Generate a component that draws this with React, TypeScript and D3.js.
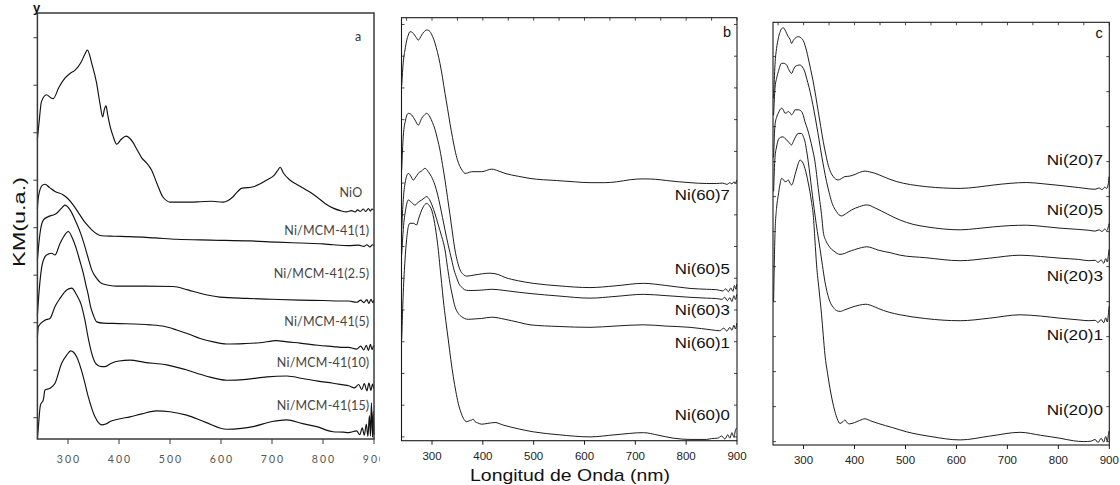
import React from 'react';
import * as d3 from 'd3';

type Pt = [number, number];

// ---------- shared axis data ----------
const WAVELENGTH_DOMAIN: [number, number] = [240, 900];
const KM_DOMAIN: [number, number] = [0, 100];
const X_TICK_VALUES = [300, 400, 500, 600, 700, 800, 900];
const X_MINOR_TICKS = [250, 300, 350, 400, 450, 500, 550, 600, 650, 700, 750, 800, 850, 900];

// ---------- panel a ----------
const panelALabels = ['NiO', 'Ni/MCM-41(1)', 'Ni/MCM-41(2.5)', 'Ni/MCM-41(5)', 'Ni/MCM-41(10)', 'Ni/MCM-41(15)'];

const niO: Pt[] = [[240,70.5],[243,74],[248,79.2],[258,80.8],[265,80.2],[271,79.9],[282,82.5],[294,84.7],[304,85.8],[314,86.6],[326,88.5],[333,90.3],[338,91.3],[347,88],[356,83.6],[363,78.5],[368,75.6],[371,77.2],[374.5,78.2],[378,76],[382,73.7],[388,71.2],[395.5,69.2],[404,70.3],[414,71.1],[421,70.6],[428,69.5],[436,67.8],[444.5,66.0],[454,64.8],[464,63.1],[474,60.1],[486,56.8],[494,55.9],[500,55.6],[530,55.6],[560,55.7],[582,55.8],[604,55.6],[614,56.0],[623,56.8],[632,58.0],[641,58.9],[652,59.0],[663,59.2],[677,59.9],[690,60.8],[704,61.9],[712,63.2],[716,63.8],[722,62.5],[735,60.8],[748,59.8],[761,58.9],[775,57.9],[788,56.8],[804,55.3],[820,54.2],[834,53.6],[846,53.3],[856,53.6],[863,53.3],[868,53.8],[873,53.4],[879,54.0],[884,53.4],[889,54.1],[893,53.5],[896,54.0],[899,53.7]];

const mcm1: Pt[] = [[240,54],[242,56.9],[250,59.6],[255,59.8],[264,59.0],[274.5,58.1],[290.8,57.3],[300,56.4],[310.4,54.9],[320,53.2],[330,51.4],[338,50.2],[346.5,49.1],[356,48.2],[366,47.7],[390,47.6],[421.6,47.5],[470,47.2],[513,46.9],[580,46.7],[657,46.5],[710,46.2],[755,46.0],[800,45.8],[820,45.6],[850,45.4],[870,45.5],[880,45.2],[886,45.6],[892,45.1],[897,45.6],[899.5,45.3]];

const mcm25: Pt[] = [[240,42],[242,44.8],[246,49],[251.6,51.4],[261.4,52.2],[271.2,52.6],[277.8,53.0],[287.6,54.2],[294,54.9],[304,53.8],[316.9,50.6],[325,48.2],[333.3,45.1],[340,42.3],[346.5,39.7],[356.3,37.7],[366.1,36.5],[380,36.1],[395.5,35.9],[450,35.9],[505.9,35.8],[535,35.0],[558.8,34.2],[598,33.3],[650,33.0],[700,32.8],[754.9,32.6],[800,32.5],[835,32.4],[850,32.4],[866,32.1],[874,32.6],[880,32.0],[886,32.7],[890,31.8],[894,32.8],[898,32.0],[899.5,32.6]];

const mcm5: Pt[] = [[240,29],[242,32.6],[248,40],[254.9,42.8],[261,43.4],[268,43.6],[274.5,43.2],[284.3,45.9],[292,47.6],[300.6,48.7],[308,47.3],[317,44.4],[323,41.9],[330,38.9],[335,36.2],[339.8,33.8],[344,31.2],[349.6,29.1],[356.3,27.5],[369.2,27.2],[400,27.1],[460.8,26.8],[490,26.4],[513,25.6],[535,24.7],[559,23.6],[585,22.8],[611,22.3],[645,22.4],[676,22.6],[709,23.1],[730,22.8],[755,22.5],[790,22.0],[820,21.7],[840,21.5],[850,21.5],[866,21.1],[874,21.8],[880,20.9],[885,22.0],[889,20.8],[893,22.2],[896,21.0],[899,22.0]];

const mcm10: Pt[] = [[240,24],[242,26.4],[254.9,27.9],[264.7,28.3],[274.5,31.1],[284.3,33.0],[297.5,35.0],[307.3,35.4],[317,33.8],[326,31.5],[333,28],[340,23.5],[346.5,20.1],[352,18.2],[358,17.3],[366,17.0],[372.5,17.0],[385,17.8],[400,18.3],[421.6,18.5],[450,18.0],[493.5,17.4],[530,16.3],[570,14.8],[611,13.8],[650,14.0],[690,14.6],[729,14.8],[760,14.2],[790,13.6],[820,13.1],[840,12.7],[850,12.5],[862,12.0],[870,12.8],[876,11.6],[881,13.0],[886,11.3],[890,13.1],[894,11.4],[897,12.9],[899.5,11.8]];

const mcm15: Pt[] = [[240,0],[242,3],[246,8],[251.6,9.2],[254.9,11.5],[264.7,11.9],[274.5,13.1],[287.6,17.8],[297.5,19.7],[305.3,20.7],[317,19.3],[330,14.6],[339.8,9.9],[352.9,5.2],[366.1,3.3],[374,3.5],[382.4,4.1],[400,4.7],[421.6,5.2],[445,5.9],[473.9,6.6],[500,6.4],[532.7,5.6],[570,3.9],[611.2,2.3],[640,2.5],[662.7,2.9],[700,4.1],[728.8,4.5],[760,3.6],[787.6,2.9],[819.6,1.7],[840,1.6],[850,1.5],[866,1.9],[872,1.0],[877,2.6],[881,0.9],[885,3.5],[888,0.6],[891,5.5],[893,0.7],[895,8.5],[897,0.4],[898.5,6.5],[899.8,1]];

// ---------- panel b ----------
const panelBLabels = ['Ni(60)7', 'Ni(60)5', 'Ni(60)3', 'Ni(60)1', 'Ni(60)0'];

const ni60_7: Pt[] = [[240.4,84],[243.5,89.5],[246.9,92.4],[250,94.5],[253.4,95.9],[256.7,96.7],[260.1,96.6],[263.2,96.3],[268,95.5],[273,94.7],[276.4,95.2],[279.7,95.9],[284,96.6],[289.6,97.1],[293,97.0],[296.1,96.7],[301,95.6],[305.9,94.0],[310.8,91.8],[315.7,89.2],[320.6,85.9],[325.6,82.1],[330.5,78.6],[335.4,75.0],[340.3,71.7],[345.2,68.7],[350,66.4],[355.1,64.8],[360,63.8],[364.9,63.2],[370,63.3],[378.1,63.6],[397.8,63.6],[417.5,64.2],[430,63.8],[443.6,63.2],[470,62.5],[492.8,62.0],[545.3,61.5],[580,61.2],[610.8,61.0],[640,61.0],[663.3,61.2],[690,61.7],[715.6,61.9],[740,61.8],[761.7,61.5],[807.6,61.0],[840,60.8],[860,60.8],[872,60.9],[880,60.6],[886,61.0],[890,60.7],[894,61.2],[897,60.9],[899.4,61.6]];

const ni60_5: Pt[] = [[240.4,64],[243.5,72],[248,75.8],[253.4,77.4],[260.1,77.0],[266.6,75.8],[273,74.6],[279.7,76.2],[285,77.0],[289.6,77.4],[296.1,76.5],[301,75.2],[305.9,73.6],[310.8,71.3],[315.7,68.7],[320.6,65.3],[325.6,61.6],[330.5,57.5],[335.4,53.4],[340.3,49.1],[345.2,45.1],[350,42.4],[355.1,40.4],[361.6,39.3],[368.3,38.9],[384.6,39.2],[414.1,39.6],[430,39.3],[443.6,38.6],[470,37.8],[499.3,37.2],[550,36.6],[610.8,36.2],[660,36.6],[715.7,37.2],[760,36.7],[807.6,36.0],[840,35.8],[860,35.7],[872,35.4],[878,35.9],[883,35.2],[888,36.1],[892,35.3],[895,36.7],[898,35.8],[899.5,37.0]];

const ni60_3: Pt[] = [[240.4,50],[243.5,57],[248,61.5],[253.4,63.2],[258,62.6],[263.2,61.6],[268,62.3],[273,63.2],[280,63.8],[286.2,64.4],[292.7,63.6],[299,62.4],[305.9,60.4],[310.8,58.3],[315.7,55.7],[320.6,52.8],[325.6,49.8],[332,46.2],[338.8,42.7],[343.5,40.3],[348.6,38.5],[353,37.1],[358.4,36.3],[364,35.7],[371.4,35.5],[397.8,35.6],[417.5,35.8],[443.6,35.5],[470,35.1],[492.8,34.8],[550,34.2],[610.8,33.7],[660,34.1],[715.7,34.6],[760,34.3],[807.6,33.9],[840,33.7],[860,33.6],[870,33.4],[876,33.9],[881,33.1],[886,33.8],[890,32.9],[894,34.3],[897,33.4],[899.5,34.6]];

const ni60_1: Pt[] = [[240.4,44],[243.5,50],[248,54.5],[253.4,56.9],[260,56.3],[266.6,55.7],[273,56.4],[279.7,56.9],[285,57.4],[289.6,57.7],[295,57.0],[300,55.7],[306,53.6],[312.4,51.0],[319,48.3],[325.6,45.1],[330.5,41.0],[335.4,37.2],[340.3,34.2],[345.2,31.7],[351.7,30.1],[358.4,29.3],[364,28.9],[371.4,28.7],[385,28.8],[397.8,28.9],[417.5,29.2],[443.6,28.7],[470,28.0],[492.8,27.4],[550,27.0],[610.8,26.8],[660,27.1],[715.7,27.4],[760,27.1],[807.6,26.8],[830,26.5],[850,26.2],[866,26.0],[874,26.6],[880,25.9],[886,26.8],[890,26.1],[894,27.3],[897,26.4],[899.5,27.8]];

const ni60_0: Pt[] = [[240.4,24],[243.5,35],[246.9,42.7],[250,47.5],[253.4,50.6],[256.7,51.4],[263.2,51.4],[269.9,51.0],[273,52.2],[278,54.0],[282.9,55.3],[289.6,56.1],[294,55.7],[299.4,54.5],[304,52.2],[309.2,48.2],[312.5,45.0],[315.7,41.1],[319,37.2],[322.2,33.3],[327,28.5],[332.1,23.8],[337,19.2],[341.9,15.1],[346.8,11.7],[351.7,8.8],[356.6,6.8],[361.6,5.3],[365,4.7],[368.3,4.5],[373,4.7],[378.1,4.9],[381,5.1],[384.6,4.5],[390,4.2],[397.8,3.9],[410,4.1],[423.9,4.3],[440,3.7],[470,2.8],[499.3,2.1],[550,1.4],[610.8,0.9],[660,1.4],[715.7,1.9],[745,1.3],[774.7,0.6],[807.6,0.3],[840,0.3],[850,0.5],[862,0.6],[870,1.1],[876,0.4],[882,1.4],[886,0.6],[890,1.9],[894,0.8],[897,2.5],[899.5,3.0]];

// ---------- panel c ----------
const panelCLabels = ['Ni(20)7', 'Ni(20)5', 'Ni(20)3', 'Ni(20)1', 'Ni(20)0'];

const ni20_7: Pt[] = [[241.2,82],[243.9,90],[247,93.8],[250.4,96.2],[253.5,97.6],[256.9,98.5],[260.2,98.7],[263.5,98.2],[266.7,97.4],[270,96.6],[273.3,96.0],[276.5,95.0],[279.8,95.7],[283.1,96.2],[289.6,96.6],[296.1,96.2],[299.4,95.7],[302.7,94.6],[306,93.2],[309.2,91.5],[314,88.8],[319,85.9],[323.9,82.5],[328.8,78.9],[333.7,75.3],[338.6,71.8],[343.5,68.8],[348.4,66.2],[353.3,64.5],[358.2,63.5],[363,62.9],[368,62.7],[374,63.0],[381.2,63.5],[390,63.6],[400.8,64.0],[410,64.5],[420.4,64.8],[430,64.6],[440,64.3],[460,63.3],[483.1,62.3],[510,61.6],[542,61.1],[575,60.8],[607.3,60.7],[640,61.0],[672.5,61.5],[705,61.9],[738,62.1],[770,61.8],[803.3,61.4],[840,60.9],[860,60.6],[872,60.5],[880,60.8],[886,60.4],[891,61.0],[895,60.7],[898,61.8],[899.5,63.5]];

const ni20_5: Pt[] = [[241.2,78],[243.9,84.4],[247,86.7],[250.4,88.3],[256.9,90.3],[261,90.3],[266.7,89.9],[271,88.8],[276.5,87.9],[280,88.8],[283.1,89.5],[288,89.8],[292.9,89.9],[299.4,89.1],[302.7,88.2],[305.9,86.8],[310.8,84.6],[315.7,82.0],[320.6,79.0],[325.5,75.7],[330.4,72.2],[335.3,68.6],[340.2,65.3],[345.1,62.3],[350,59.8],[354.9,57.6],[360,56.1],[364.7,55.2],[369,54.5],[374.5,54.2],[384,54.8],[394.1,55.6],[410,56.4],[424.3,56.8],[440,56.1],[465,54.6],[489.6,53.2],[515,52.2],[542,51.6],[575,51.1],[607.3,50.9],[640,51.2],[672.5,51.6],[705,51.9],[738,52.0],[770,51.7],[803.3,51.3],[840,51.0],[860,50.8],[872,50.6],[880,50.9],[886,50.5],[891,51.1],[895,50.7],[898,51.6],[899.5,52.4]];

const ni20_3: Pt[] = [[241.2,68],[243.9,75.7],[247,77.5],[250.4,78.5],[256.9,79.7],[260.2,79.3],[263.5,78.5],[267,78.6],[270,78.9],[273.3,78.6],[276.5,78.1],[280,78.6],[283.1,79.3],[289.6,79.3],[296.1,78.9],[299.4,78.0],[302.7,76.5],[307.5,74.8],[312.5,72.6],[317.5,70.0],[322.4,67.0],[325.6,64.0],[328.8,60.7],[332,57.6],[335.3,54.5],[338.6,50.5],[343.5,48.4],[348.4,47.3],[355,46.3],[361.6,45.7],[366,45.3],[371.4,45.1],[380,45.3],[387.6,45.7],[400,46.2],[413.7,46.7],[424.3,46.9],[435,46.6],[446.5,46.1],[470,45.5],[489.6,44.9],[540,44.3],[607.3,43.6],[665,44.2],[724.9,44.9],[765,44.6],[803.3,44.2],[840,43.9],[860,43.6],[872,43.7],[878,43.2],[884,43.8],[889,43.0],[893,44.1],[896,43.3],[898.5,45.2],[899.7,46.3]];

const ni20_1: Pt[] = [[241.2,60],[243.9,68],[247,70.5],[250.4,72.2],[255,72.8],[260.2,72.9],[263.5,72.5],[266.7,72.2],[271,71.6],[276.5,71.0],[280,71.8],[283.1,72.6],[289.6,73.7],[296.1,73.7],[299.4,73.0],[302.7,71.8],[306,69.6],[309.2,67.0],[312.5,63.9],[315.7,60.7],[319,57.5],[322.4,54.4],[327,50.5],[332.2,46.5],[337,42.5],[342,38.6],[346.5,36.0],[351.8,33.9],[358,32.6],[364.7,31.8],[372,31.6],[381.2,32.0],[395,32.6],[410,33.1],[422,33.3],[435,32.9],[446.5,32.3],[468,31.4],[489.6,30.8],[540,29.9],[607.3,29.4],[665,30.0],[724.9,30.8],[765,30.5],[803.3,30.0],[840,29.6],[860,29.4],[872,29.5],[878,29.0],[884,29.7],[889,28.9],[893,30.1],[896,29.1],[898.5,31.3],[899.7,32.8]];

const ni20_0: Pt[] = [[241.2,34],[243.9,50],[247,56],[250.4,59.1],[253.5,61.5],[256.9,63.1],[260.2,62.8],[263.5,62.3],[267,62.4],[270,62.7],[273.3,62.0],[276.5,61.5],[280,62.4],[283.1,63.9],[286.5,65.3],[289.6,66.6],[292.9,67.4],[296.1,67.2],[299.4,66.6],[302.7,65.4],[305.9,63.9],[309.2,62.0],[312.5,59.9],[315.7,57.4],[319,54.4],[322.3,48.5],[325.5,42.6],[330.4,36.7],[335.3,30.8],[338.6,26.0],[342,21.3],[347,17.0],[351.8,13.4],[356.6,10.4],[361.6,7.9],[366,6.2],[371.4,5.1],[376,5.4],[381.2,5.9],[386,5.2],[390,5.0],[400,5.3],[410,5.8],[420.4,6.2],[432,5.7],[446.5,5.1],[475,4.1],[502.7,3.1],[550,2.0],[607.3,1.2],[665,2.1],[724.9,3.0],[765,2.3],[803.3,1.6],[830,1.0],[850,0.8],[864,0.9],[872,1.3],[878,0.6],[884,1.6],[889,0.7],[893,2.0],[896,0.9],[898.5,2.7],[899.7,3.3]];

// ---------- layout (positions/styles, not data) ----------
const FONT_ARIAL = "'Liberation Sans', Arial, Helvetica, sans-serif";
const FONT_SOFT = "Lato, 'Open Sans', sans-serif";

type PanelCfg = {
  key: string;
  box: { x0: number; x1: number; y0: number; y1: number };
  series: Pt[][];
  labels: string[];
  labelY: number[];
  labelX: number;
  letter: string;
  letterPos: [number, number];
  style: 'soft' | 'sharp';
  yTickStart: number;
  yTickStep: number;
};

const panels: PanelCfg[] = [
  {
    key: 'a', box: { x0: 37.4, x1: 374, y0: 13, y1: 439 },
    series: [niO, mcm1, mcm25, mcm5, mcm10, mcm15], labels: panelALabels,
    labelY: [56.9, 48.0, 37.9, 26.6, 16.8, 6.7], labelX: 891,
    letter: 'a', letterPos: [358, 41], style: 'soft', yTickStart: 5, yTickStep: 11.15,
  },
  {
    key: 'b', box: { x0: 401.5, x1: 737, y0: 17.7, y1: 440.7 },
    series: [ni60_7, ni60_5, ni60_3, ni60_1, ni60_0], labels: panelBLabels,
    labelY: [57.0, 39.5, 29.7, 21.8, 5.0], labelX: 886,
    letter: 'b', letterPos: [727, 36.5], style: 'sharp', yTickStart: 0.9, yTickStep: 7.5,
  },
  {
    key: 'c', box: { x0: 773, x1: 1109.3, y0: 22.3, y1: 445 },
    series: [ni20_7, ni20_5, ni20_3, ni20_1, ni20_0], labels: panelCLabels,
    labelY: [66.2, 54.4, 38.8, 24.8, 7.1], labelX: 887.5,
    letter: 'c', letterPos: [1099, 38], style: 'sharp', yTickStart: 0.8, yTickStep: 8.28,
  },
];

function Panel({ p }: { p: PanelCfg }) {
  const { x0, x1, y0, y1 } = p.box;
  const x = d3.scaleLinear().domain(WAVELENGTH_DOMAIN).range([x0, x1]);
  const y = d3.scaleLinear().domain(KM_DOMAIN).range([y1, y0]);
  const line = d3.line<Pt>().x(d => x(d[0])).y(d => y(d[1])).curve(d3.curveMonotoneX);
  const soft = p.style === 'soft';
  const yTicks = d3.range(p.yTickStart, 100, p.yTickStep);
  const frameColor = soft ? '#3a3a3a' : '#1a1a1a';

  return (
    <g>
      {p.series.map((s, i) => (
        <path key={i} d={line(s) || ''} fill="none" stroke="#111" strokeWidth={soft ? 1.15 : 0.95} strokeLinejoin="round" />
      ))}
      <rect x={x0} y={y0} width={x1 - x0} height={y1 - y0} fill="none" stroke={frameColor} strokeWidth={soft ? 1.5 : 1.1} />
      {X_TICK_VALUES.map(t => (
        <line key={'bt' + t} x1={x(t)} x2={x(t)} y1={y1} y2={y1 + (soft ? 5 : 4)} stroke={frameColor} strokeWidth={1} />
      ))}
      {yTicks.map((t, i) => soft ? (
        <line key={'lt' + i} x1={x0 - 4} x2={x0} y1={y(t)} y2={y(t)} stroke={frameColor} strokeWidth={1} />
      ) : (
        <g key={'lt' + i}>
          <line x1={x0} x2={x0 + 3} y1={y(t)} y2={y(t)} stroke={frameColor} strokeWidth={0.8} />
          <line x1={x1 - 3} x2={x1} y1={y(t)} y2={y(t)} stroke={frameColor} strokeWidth={0.8} />
        </g>
      ))}
      {!soft && X_MINOR_TICKS.map(t => (
        <line key={'tt' + t} x1={x(t)} x2={x(t)} y1={y0} y2={y0 + 3} stroke={frameColor} strokeWidth={0.8} />
      ))}
      {X_TICK_VALUES.map(t => soft ? (
        <text key={'tl' + t} x={x(t) + 1} y={y1 + 24} textAnchor="middle" fontFamily={FONT_SOFT} fontSize={10.5}
          letterSpacing={2} fill="#555">{t}</text>
      ) : (
        <text key={'tl' + t} x={x(t)} y={y1 + (p.key === 'b' ? 19.5 : 19)} textAnchor="middle" fontFamily={FONT_ARIAL} fontSize={11.5}
          fill="#222">{t}</text>
      ))}
      {p.labels.map((lab, i) => soft ? (
        <text key={'sl' + i} x={x(p.labelX) - (i === 0 ? 7 : 0)} y={y(p.labelY[i])} textAnchor="end" fontFamily={FONT_SOFT}
          fontSize={12.5} letterSpacing={0.2} fill="#444">{lab}</text>
      ) : (
        <text key={'sl' + i} transform={`translate(${x(p.labelX)},${y(p.labelY[i])}) scale(1.16,1)`} textAnchor="end"
          fontFamily={FONT_ARIAL} fontSize={p.key === 'b' ? 14.5 : 14.8} fill="#111">{lab}</text>
      ))}
      <text x={p.letterPos[0]} y={p.letterPos[1]} textAnchor="middle" fontFamily={soft ? FONT_SOFT : FONT_ARIAL}
        fontSize={soft ? 12.5 : 14.5} fill={soft ? '#333' : '#111'}>{p.letter}</text>
    </g>
  );
}

export default function App() {
  return (
    <svg width={1120} height={485} style={{ position: 'absolute', left: 0, top: 0, background: '#fff' }}>
      <rect x={0} y={0} width={1120} height={485} fill="#fff" />
      <defs>
        <clipPath id="clipA"><rect x={0} y={0} width={380} height={485} /></clipPath>
      </defs>
      <g clipPath="url(#clipA)">
        <Panel p={panels[0]} />
      </g>
      <Panel p={panels[1]} />
      <Panel p={panels[2]} />
      <text x={33} y={12} fontFamily={FONT_ARIAL} fontWeight="bold" fontSize={13} fill="#111">y</text>
      <text transform="translate(25,222) rotate(-90)" textAnchor="middle" fontFamily={FONT_ARIAL} fontSize={17}
        textLength={90} lengthAdjust="spacingAndGlyphs" fill="#111">KM(u.a.)</text>
      <text x={570} y={481} textAnchor="middle" fontFamily={FONT_ARIAL} fontSize={17}
        textLength={200} lengthAdjust="spacingAndGlyphs" fill="#111">Longitud de Onda (nm)</text>
    </svg>
  );
}
